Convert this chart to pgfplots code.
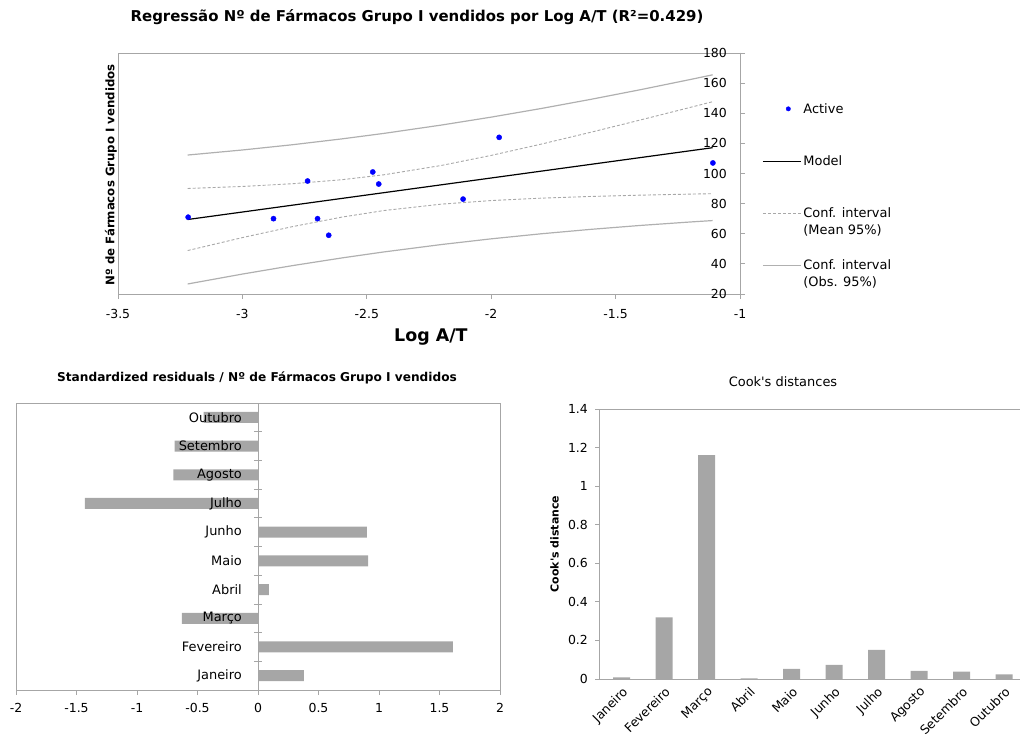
\documentclass[border=0pt]{standalone}
\usepackage{fontspec}
\setmainfont{DejaVu Sans}
\usepackage{pgfplots}
\pgfplotsset{compat=1.18}
\definecolor{framegray}{HTML}{A6A6A6}
\definecolor{bargray}{HTML}{A6A6A6}
\definecolor{ciobs}{HTML}{B0B0B0}
\definecolor{cimean}{HTML}{A8A8A8}
\pgfplotsset{
  mylinelegend/.style={legend image code/.code={\draw[##1] (0bp,0bp) -- (38bp,0bp);}},
}
\begin{document}
\begin{tikzpicture}
\useasboundingbox (0bp,0bp) rectangle (1020bp,742bp);
\node[font=\bfseries\fontsize{15}{18}\selectfont] at (417bp,725bp) {Regressão Nº de Fármacos Grupo I vendidos por Log A/T (R²=0.429)};
\node[font=\bfseries\fontsize{12.2}{14}\selectfont] at (257bp,364bp) {Standardized residuals / Nº de Fármacos Grupo I vendidos};
\node[font=\fontsize{13}{15}\selectfont] at (783bp,360bp) {Cook\textquotesingle s distances};

% ---------------- top regression chart
\begin{axis}[
  at={(118bp,448bp)}, anchor=south west,
  scale only axis, width=622bp, height=241bp,
  xmin=-3.5, xmax=-1, ymin=20, ymax=180,
  xtick={-3.5,-3,-2.5,-2,-1.5,-1},
  ytick={20,40,60,80,100,120,140,160,180},
  xtick pos=bottom, ytick pos=right, yticklabel pos=right,
  tick align=outside, major tick length=5bp,
  axis line style={framegray, line width=0.8bp},
  tick style={framegray, line width=0.8bp},
  /pgf/number format/assume math mode=true,
  tick label style={font=\fontsize{12.5}{14}\selectfont},
  yticklabel style={anchor=east, inner sep=0pt, xshift=-18bp},
  xticklabel style={inner sep=0pt, yshift=-10bp},
  xlabel={Log A/T},
  xlabel style={font=\bfseries\fontsize{17.5}{20}\selectfont, at={(axis description cs:0.503,0)}, anchor=center, yshift=-43bp},
  ylabel={Nº de Fármacos Grupo I vendidos},
  ylabel style={font=\bfseries\fontsize{11.8}{14}\selectfont, at={(axis description cs:0,0.495)}, anchor=south, inner sep=1bp},
  legend style={at={(axis description cs:1,1)}, anchor=north west, xshift=22bp, yshift=-48bp,
    draw=none, fill=none, inner sep=0pt, row sep=37bp, column sep=0bp,
    font=\fontsize{13}{17}\selectfont},
  legend cell align=left,
]
\pgfplotsinvokeforeach{20,40,60,80,100,120,140,160,180}{
  \draw[framegray, line width=0.8bp] (axis cs:-1,#1) -- ++(-5bp,0);
}
\addplot[ciobs, line width=1.2bp, forget plot] coordinates {(-3.22,112.25) (-3.0,115.61) (-2.8,119.07) (-2.6,122.98) (-2.43,126.65) (-2.2,132.16) (-2.0,137.42) (-1.8,143.12) (-1.6,149.21) (-1.4,155.64) (-1.2,162.39) (-1.11,165.51)};
\addplot[ciobs, line width=1.2bp, forget plot] coordinates {(-3.22,26.65) (-3.0,33.23) (-2.8,38.81) (-2.6,43.94) (-2.43,47.95) (-2.2,52.84) (-2.0,56.62) (-1.8,59.96) (-1.6,62.91) (-1.4,65.52) (-1.2,67.81) (-1.11,68.75)};
\addplot[cimean, line width=0.9bp, dash pattern=on 3bp off 2bp, forget plot] coordinates {(-3.22,90.05) (-3.0,91.40) (-2.8,93.19) (-2.6,95.87) (-2.43,99.17) (-2.2,105.34) (-2.0,112.01) (-1.8,119.46) (-1.6,127.36) (-1.4,135.54) (-1.2,143.88) (-1.11,147.67)};
\addplot[cimean, line width=0.9bp, dash pattern=on 3bp off 2bp, forget plot] coordinates {(-3.22,48.85) (-3.0,57.44) (-2.8,64.69) (-2.6,71.05) (-2.43,75.43) (-2.2,79.66) (-2.0,82.03) (-1.8,83.62) (-1.6,84.76) (-1.4,85.62) (-1.2,86.32) (-1.11,86.59)};
\addplot[black, line width=1.2bp, forget plot] coordinates {(-3.22,69.45) (-1.11,117.13)};
\addplot[only marks, mark=*, mark size=2.6bp, blue, forget plot] coordinates {(-3.218,71) (-2.875,70) (-2.738,95) (-2.698,70) (-2.653,59) (-2.476,101) (-2.452,93) (-2.113,83) (-1.968,124) (-1.109,107)};
\addlegendimage{only marks, mark=*, mark size=2.2bp, blue, legend image post style={xshift=17bp}}
\addlegendentry{Active}
\addlegendimage{black, line width=1.2bp, mylinelegend}
\addlegendentry{Model}
\addlegendimage{cimean, line width=0.9bp, dash pattern=on 3bp off 2bp, mylinelegend}
\addlegendentry{\raisebox{0pt}[\height][0pt]{\vtop{\hbox{Conf. interval}\hbox{(Mean 95\%)}}}}
\addlegendimage{ciobs, line width=1.2bp, mylinelegend}
\addlegendentry{\raisebox{0pt}[\height][0pt]{\vtop{\hbox{Conf. interval}\hbox{(Obs. 95\%)}}}}
\end{axis}

% ---------------- standardized residuals
\begin{axis}[
  at={(16bp,52bp)}, anchor=south west,
  scale only axis, width=484bp, height=287bp,
  axis on top,
  xbar, bar width=11bp,
  xmin=-2, xmax=2, ymin=-0.5, ymax=9.5,
  xtick={-2,-1.5,-1,-0.5,0,0.5,1,1.5,2},
  ytick={0,1,2,3,4,5,6,7,8,9},
  yticklabels={Janeiro,Fevereiro,Março,Abril,Maio,Junho,Julho,Agosto,Setembro,Outubro},
  xtick pos=bottom, tick align=outside, major tick length=5bp,
  ytick style={draw=none},
  xtick style={framegray, line width=0.8bp},
  axis line style={framegray, line width=0.8bp},
  /pgf/number format/assume math mode=true,
  tick label style={font=\fontsize{12.5}{14}\selectfont},
  yticklabel style={anchor=east, inner sep=0pt, xshift=231bp, font=\fontsize{13}{15}\selectfont},
  xticklabel style={inner sep=0pt, yshift=-8bp},
]
\draw[framegray, line width=0.8bp] (axis cs:0,-0.5) -- (axis cs:0,9.5);
\pgfplotsinvokeforeach{0.5,1.5,2.5,3.5,4.5,5.5,6.5,7.5,8.5}{
  \draw[framegray, line width=0.8bp] (axis cs:-0.035,#1) -- (axis cs:0.035,#1);
}
\addplot[fill=bargray, draw=none] coordinates {(0.38,0) (1.61,1) (-0.63,2) (0.09,3) (0.91,4) (0.90,5) (-1.43,6) (-0.70,7) (-0.69,8) (-0.45,9)};
\end{axis}

% ---------------- Cook's distances
\begin{axis}[
  at={(599bp,63bp)}, anchor=south west,
  scale only axis, width=425bp, height=270bp,
  ybar, bar width=17bp,
  xmin=-0.53, xmax=9.47, ymin=0, ymax=1.4,
  xtick={0,1,2,3,4,5,6,7,8,9},
  xticklabels={Janeiro,Fevereiro,Março,Abril,Maio,Junho,Julho,Agosto,Setembro,Outubro},
  ytick={0,0.2,0.4,0.6,0.8,1,1.2,1.4},
  ytick pos=left, tick align=outside, major tick length=4bp,
  xtick style={draw=none},
  ytick style={framegray, line width=0.8bp},
  axis line style={framegray, line width=0.8bp},
  /pgf/number format/assume math mode=true,
  tick label style={font=\fontsize{12.5}{14}\selectfont},
  yticklabel style={anchor=east, inner sep=0pt, xshift=-7bp},
  xticklabel style={rotate=45, anchor=north east, inner sep=2bp},
  ylabel={Cook\textquotesingle s distance},
  ylabel style={font=\bfseries\fontsize{11}{13}\selectfont, at={(axis description cs:-0.094,0.5)}, anchor=south, inner sep=0pt},
]
\addplot[fill=bargray, draw=none] coordinates {(0,0.009) (1,0.32) (2,1.161) (3,0.003) (4,0.052) (5,0.073) (6,0.151) (7,0.042) (8,0.038) (9,0.024)};
\end{axis}
\end{tikzpicture}
\end{document}
